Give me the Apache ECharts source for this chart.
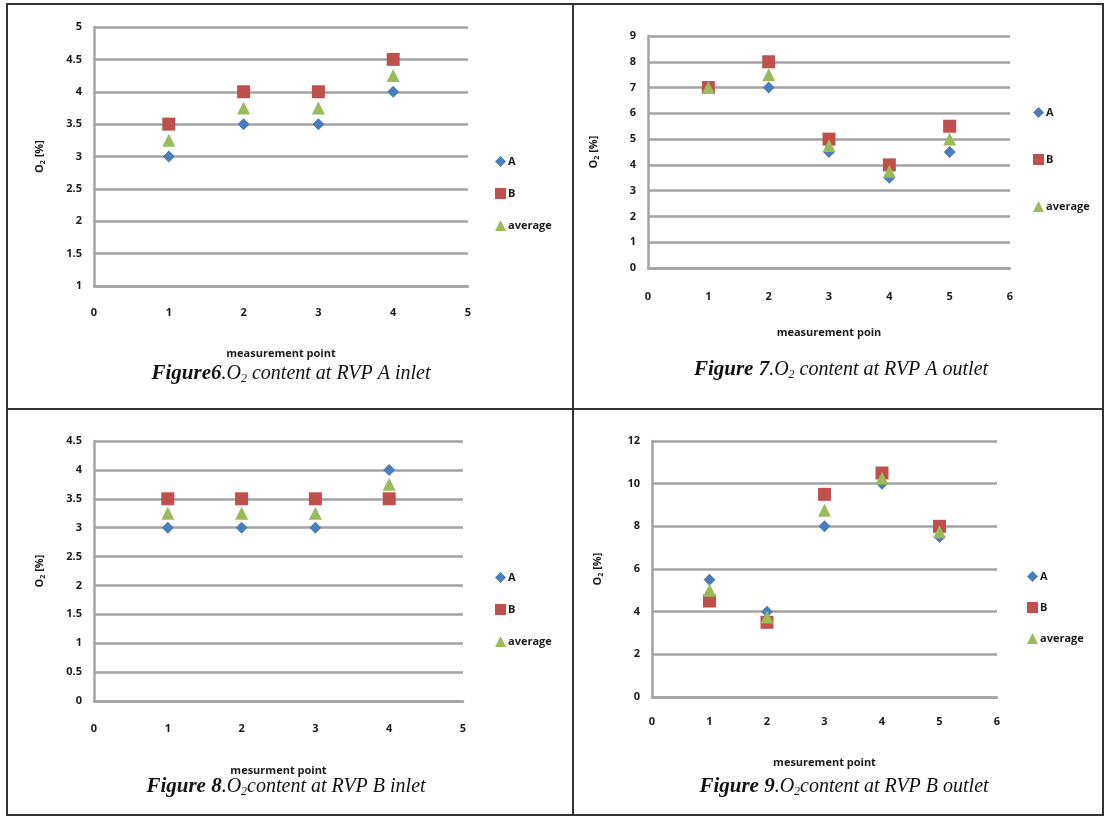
<!DOCTYPE html>
<html><head><meta charset="utf-8">
<script src="https://cdn.jsdelivr.net/npm/echarts@6/dist/echarts.min.js"></script>
<style>html,body{margin:0;padding:0;background:#fff}#c{width:1105px;height:817px}</style>
</head><body><div id="c"></div>
<script>
// ---- data ----
const seriesNames = ['A', 'B', 'average'];
const fig6X = [1, 2, 3, 4];
const fig6A = [3, 3.5, 3.5, 4];
const fig6B = [3.5, 4, 4, 4.5];
const fig6Avg = [3.25, 3.75, 3.75, 4.25];

const fig7X = [1, 2, 3, 4, 5];
const fig7A = [7, 7, 4.5, 3.5, 4.5];
const fig7B = [7, 8, 5, 4, 5.5];
const fig7Avg = [7, 7.5, 4.75, 3.75, 5];

const fig8X = [1, 2, 3, 4];
const fig8A = [3, 3, 3, 4];
const fig8B = [3.5, 3.5, 3.5, 3.5];
const fig8Avg = [3.25, 3.25, 3.25, 3.75];

const fig9X = [1, 2, 3, 4, 5];
const fig9A = [5.5, 4, 8, 10, 7.5];
const fig9B = [4.5, 3.5, 9.5, 10.5, 8];
const fig9Avg = [5, 3.75, 8.75, 10.25, 7.75];

const xAxisNames = ['measurement point', 'measurement poin', 'mesurment point', 'mesurement point'];
const figNums = ['Figure6', 'Figure 7', 'Figure 8', 'Figure 9'];
const figTexts = [' content at RVP A inlet', ' content at RVP A outlet', 'content at RVP B inlet', 'content at RVP B outlet'];

// ---- layout ----
const panels = [
  {x: fig6X, s: [fig6A, fig6B, fig6Avg], grid: {left: 94, top: 27, width: 374, height: 259}, xMax: 5, yMin: 1, yMax: 5, yInt: 0.5,
   legend: {left: 490, top: 151, gap: 21}, xGap: 62, cap: {x: 291, y: 374}, xLabM: 21},
  {x: fig7X, s: [fig7A, fig7B, fig7Avg], grid: {left: 648, top: 36, width: 362, height: 232}, xMax: 6, yMin: 0, yMax: 9, yInt: 1,
   legend: {left: 1028, top: 102, gap: 36}, xGap: 59, cap: {x: 841, y: 370}, xLabM: 23},
  {x: fig8X, s: [fig8A, fig8B, fig8Avg], grid: {left: 94, top: 441, width: 369, height: 260}, xMax: 5, yMin: 0, yMax: 4.5, yInt: 0.5,
   legend: {left: 490, top: 567, gap: 21}, xGap: 64, cap: {x: 286, y: 787}, xLabM: 22},
  {x: fig9X, s: [fig9A, fig9B, fig9Avg], grid: {left: 652, top: 441, width: 345, height: 256}, xMax: 6, yMin: 0, yMax: 12, yInt: 2,
   legend: {left: 1022, top: 566, gap: 20}, xGap: 60, cap: {x: 844, y: 787}, xLabM: 19}
];
const colors = ['#4A7EBB', '#C0504D', '#9BBB59'];
const symbols = ['diamond', 'rect', 'triangle'];
const sizes = [12, 13, 13];
const labelFont = {fontFamily: 'Open Sans', fontSize: 11, color: '#1a1a1a', fontWeight: 700};
const gridColor = '#a3a3a3';

const option = {
  animation: false,
  backgroundColor: '#fff',
  grid: [], xAxis: [], yAxis: [], series: [], legend: [], graphic: []
};

panels.forEach((p, i) => {
  option.grid.push(Object.assign({containLabel: false}, p.grid));
  option.xAxis.push({
    type: 'value', gridIndex: i, min: 0, max: p.xMax, interval: 1,
    name: xAxisNames[i], nameLocation: 'middle', nameGap: p.xGap,
    nameTextStyle: {fontFamily: 'Open Sans', fontSize: 11, color: '#1a1a1a', fontWeight: 700, letterSpacing: -0.5},
    axisLine: {show: true, lineStyle: {color: gridColor, width: 2.5}},
    axisTick: {show: false},
    splitLine: {show: false},
    axisLabel: Object.assign({margin: p.xLabM}, labelFont)
  });
  option.yAxis.push({
    type: 'value', gridIndex: i, min: p.yMin, max: p.yMax, interval: p.yInt,
    name: '{o|O}{s|2}{o| [%]}', nameLocation: 'middle', nameGap: 48, nameRotate: 90,
    nameTextStyle: {rich: {
      o: {fontFamily: 'Open Sans', fontSize: 11, fontWeight: 700, color: '#1a1a1a'},
      s: {fontFamily: 'Open Sans', fontSize: 7, fontWeight: 700, color: '#1a1a1a', padding: [5, 0, 0, 0]}
    }},
    axisLine: {show: true, lineStyle: {color: gridColor, width: 2.5}},
    axisTick: {show: false},
    splitLine: {show: true, lineStyle: {color: gridColor, width: 2.5}},
    axisLabel: Object.assign({margin: 12}, labelFont)
  });
  p.s.forEach((vals, k) => {
    option.series.push({
      type: 'scatter', name: seriesNames[k], xAxisIndex: i, yAxisIndex: i,
      symbol: symbols[k], symbolSize: sizes[k], z: 2 + k,
      itemStyle: {color: colors[k], opacity: 1},
      data: p.x.map((xv, j) => [xv, vals[j]])
    });
  });
  option.legend.push({
    orient: 'vertical', left: p.legend.left, top: p.legend.top, itemGap: p.legend.gap,
    itemWidth: 11, itemHeight: 11, selectedMode: false,
    data: seriesNames.map((n, k) => ({name: n, icon: symbols[k], itemStyle: {color: colors[k]}})),
    textStyle: {fontFamily: 'Open Sans', fontSize: 11, fontWeight: 700, color: '#1a1a1a', padding: [0, 0, 0, -3]}
  });
  option.graphic.push({
    type: 'text', x: p.cap.x, y: p.cap.y, z: 10,
    style: {
      text: '{b|' + figNums[i] + '}{i|.O}{s|2}{i|' + figTexts[i] + '}',
      align: 'center', verticalAlign: 'middle',
      rich: {
        b: {fontFamily: 'Liberation Serif', fontSize: 21, fontStyle: 'italic', fontWeight: 'bold', fill: '#111'},
        i: {fontFamily: 'Liberation Serif', fontSize: 20, fontStyle: 'italic', fill: '#111'},
        s: {fontFamily: 'Liberation Serif', fontSize: 12, fontStyle: 'italic', fill: '#111', padding: [9, 0, 0, 0]}
      }
    }
  });
});

// panel borders
const bc = '#333';
option.graphic.push(
  {type: 'rect', shape: {x: 7, y: 4, width: 1096, height: 811}, style: {fill: 'none', stroke: bc, lineWidth: 2}, silent: true},
  {type: 'line', shape: {x1: 573, y1: 4, x2: 573, y2: 815}, style: {stroke: bc, lineWidth: 2}, silent: true},
  {type: 'line', shape: {x1: 7, y1: 409, x2: 1103, y2: 409}, style: {stroke: bc, lineWidth: 2}, silent: true}
);

const chart = echarts.init(document.getElementById('c'), null, {renderer: 'canvas'});
chart.setOption(option);
</script></body></html>
